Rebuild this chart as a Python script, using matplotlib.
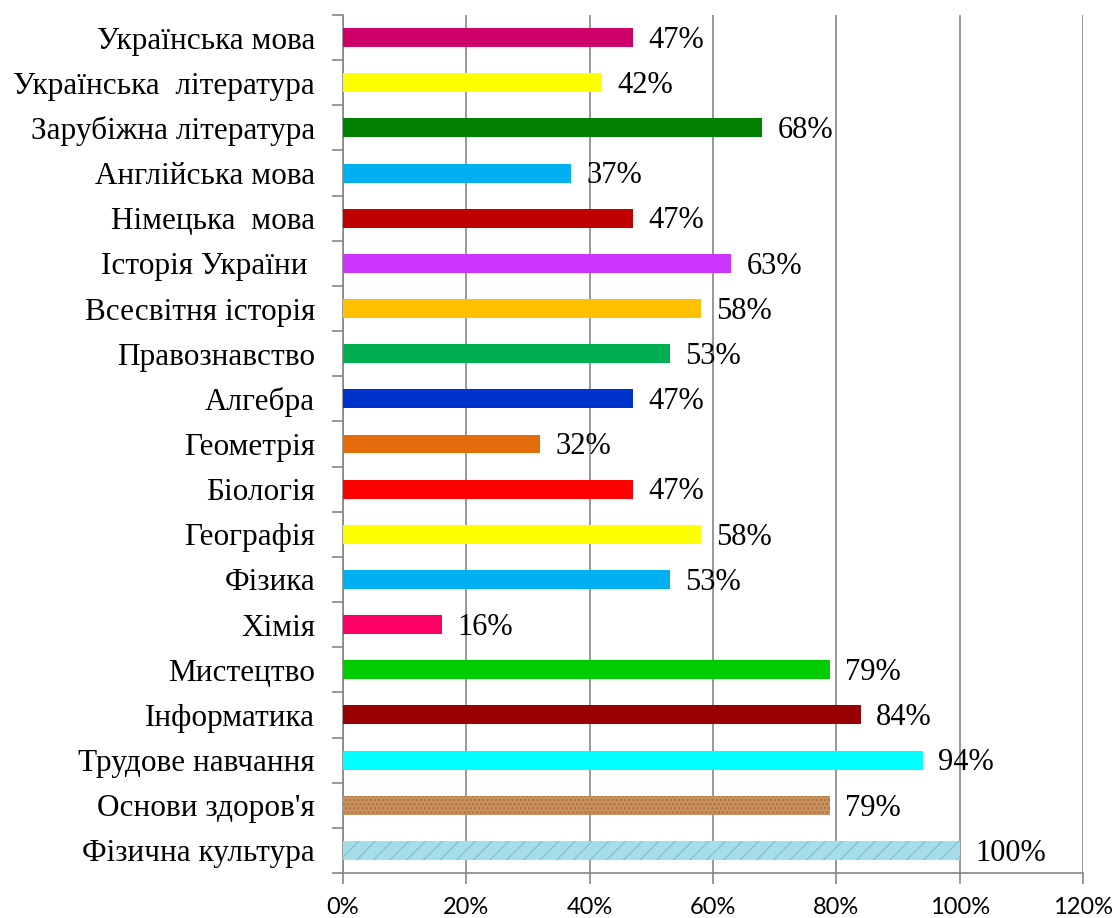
import numpy as np
import matplotlib.pyplot as plt
from matplotlib.ticker import FuncFormatter, FixedLocator

# предмети зверху вниз
subjects = ['Українська мова', 'Українська  література', 'Зарубіжна література',
            'Англійська мова', 'Німецька  мова', 'Історія України ',
            'Всесвітня історія', 'Правознавство', 'Алгебра', 'Геометрія',
            'Біологія', 'Географія', 'Фізика', 'Хімія', 'Мистецтво',
            'Інформатика', 'Трудове навчання', "Основи здоров'я", 'Фізична культура']
values = [47, 42, 68, 37, 47, 63, 58, 53, 47, 32, 47, 58, 53, 16, 79, 84, 94, 79, 100]
colors = ['#CC0066', '#FFFF00', '#008000', '#00B0F0', '#C00000', '#CC33FF',
          '#FFC000', '#00B050', '#0033CC', '#E46C0A', '#FF0000', '#FFFF00',
          '#00B0F0', '#FF0066', '#00CC00', '#990000', '#00FFFF', '#C8915E', '#A6DDE8']
xticks = [0, 20, 40, 60, 80, 100, 120]

fig = plt.figure(figsize=(11.16, 9.18), dpi=100)
ax = fig.add_axes([0.3073, 0.049, 0.6631, 0.9347])

n = len(subjects)
y = np.arange(n)[::-1]
bars = ax.barh(y, values, height=0.42, color=colors, zorder=3)
# текстури для двох нижніх стовпців (приблизно)
bars[-2].set_hatch('....')
bars[-2].set_edgecolor('#A8703F')
bars[-2].set_linewidth(0)
bars[-1].set_hatch('//')
bars[-1].set_edgecolor('#7FC6D6')
bars[-1].set_linewidth(0)

for yi, v in zip(y, values):
    ax.annotate(f'{v}%', (v, yi), xytext=(11, -2), textcoords='offset points',
                va='center', ha='left', fontsize=22, family='Liberation Serif', zorder=4)

ax.set_xlim(0, 120)
ax.set_ylim(-0.5, n - 0.5)
ax.set_xticks(xticks)
ax.xaxis.set_major_formatter(FuncFormatter(lambda v, p: f'{int(v)}%'))
ax.grid(axis='x', color='#868686', linewidth=1.2, zorder=0)

ax.set_yticks(y)
ax.set_yticklabels(subjects, family='Liberation Serif', fontsize=22.5)
ax.yaxis.set_minor_locator(FixedLocator(np.arange(n + 1) - 0.5))
ax.tick_params(axis='y', which='major', length=0, pad=20)
ax.tick_params(axis='y', which='minor', length=8, color='#868686', width=1.2)
ax.tick_params(axis='x', length=8, color='#868686', width=1.2, labelsize=17, pad=9)
for lab in ax.get_xticklabels():
    lab.set_family('Lato')

for s in ['top', 'right']:
    ax.spines[s].set_visible(False)
for s in ['left', 'bottom']:
    ax.spines[s].set_color('#868686')
    ax.spines[s].set_linewidth(1.2)

fig.savefig('out.png', dpi=100)
